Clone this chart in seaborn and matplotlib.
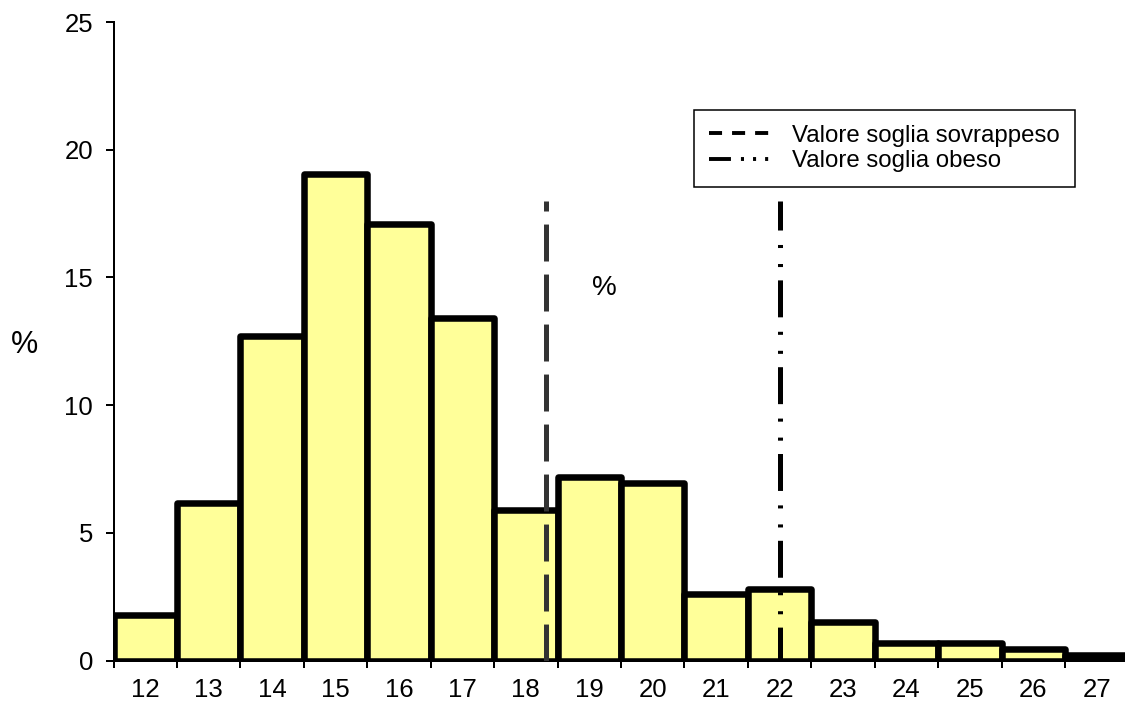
import matplotlib
matplotlib.use("Agg")
import matplotlib.pyplot as plt
import seaborn as sns
import pandas as pd
from matplotlib.lines import Line2D

# BMI classes (label = centre of the class) and share of children in %
bmi = list(range(12, 28))
pct = [1.8, 6.15, 12.7, 19.05, 17.1, 13.4, 5.9, 7.2, 6.95, 2.6, 2.8, 1.5, 0.7, 0.7, 0.45, 0.2]

soglia_sovrappeso = 18.32
soglia_obeso = 22.01
altezza_linee = 18

etichette_legenda = ["Valore soglia sovrappeso", "Valore soglia obeso"]

sns.set_style("ticks")
plt.rcParams["font.family"] = ["Liberation Sans", "DejaVu Sans"]
plt.rcParams["lines.scale_dashes"] = False
for k in ["text.color", "axes.labelcolor", "xtick.color", "ytick.color", "axes.edgecolor"]:
    plt.rcParams[k] = "black"

df = pd.DataFrame({"bmi": bmi, "pct": pct})

fig = plt.figure(figsize=(11.25, 7.02), dpi=100)
ax = fig.add_axes([113.5 / 1125, 41.5 / 702, (1128.4 - 113.5) / 1125, (660.5 - 22) / 702])

sns.barplot(data=df, x="bmi", y="pct", native_scale=True, width=1, color="#FFFF99",
            saturation=1, edgecolor="black", linewidth=4.7, errorbar=None, ax=ax)
for p in ax.patches:
    p.set_joinstyle("round")

# threshold lines
ax.plot([soglia_sovrappeso, soglia_sovrappeso], [0, altezza_linee], color="#333333", lw=3.6,
        linestyle=(0, (26.6, 9.4)), dash_capstyle="butt", zorder=5)
ax.plot([soglia_obeso, soglia_obeso], [0, altezza_linee], color="black", lw=3.6,
        linestyle=(2.2, (26.6, 9.6, 2.2, 11.5, 2.2, 10.4)), dash_capstyle="butt", zorder=5)

ax.set_xlim(11.5, 27.5)
ax.set_ylim(0, 25)
ax.set_xticks(bmi)
ax.set_xticklabels([str(b) for b in bmi])
ax.set_xticks([b - 0.5 for b in bmi] + [bmi[-1] + 0.5], minor=True)
ax.tick_params(axis="x", which="major", length=0, pad=12.5, labelsize=18.5)
ax.tick_params(axis="x", which="minor", length=5, width=1.44, direction="out")
ax.set_yticks(range(0, 26, 5))
ax.tick_params(axis="y", length=5.8, width=1.44, pad=9, labelsize=18.5)
ax.set_xlabel("")
ax.set_ylabel("")
sns.despine(ax=ax)
ax.spines["left"].set_linewidth(1.44)
ax.spines["bottom"].set_linewidth(1.44)

ax.text(19.24, 14.6, "%", fontsize=20, ha="center", va="center")
fig.text(25 / 1125, 1 - 345 / 702, "%", fontsize=22, ha="center", va="center")

h1 = Line2D([], [], color="black", lw=2.8, linestyle=(0, (9.4, 7.2)))
h2 = Line2D([], [], color="black", lw=2.8, linestyle=(0, (15.8, 7.2, 2.2, 6.5, 2.2, 6.5, 2.2, 20)))
leg = ax.legend([h1, h2], etichette_legenda, loc="upper left",
                bbox_to_anchor=(694 / 1125, 1 - 110 / 702), bbox_transform=fig.transFigure,
                fontsize=17.3, handlelength=2.5, handletextpad=0.97, labelspacing=0.14,
                borderpad=0.62, borderaxespad=0, fancybox=False, framealpha=1, edgecolor="black")
leg.get_frame().set_linewidth(1.1)

fig.savefig("out.png", dpi=100)
